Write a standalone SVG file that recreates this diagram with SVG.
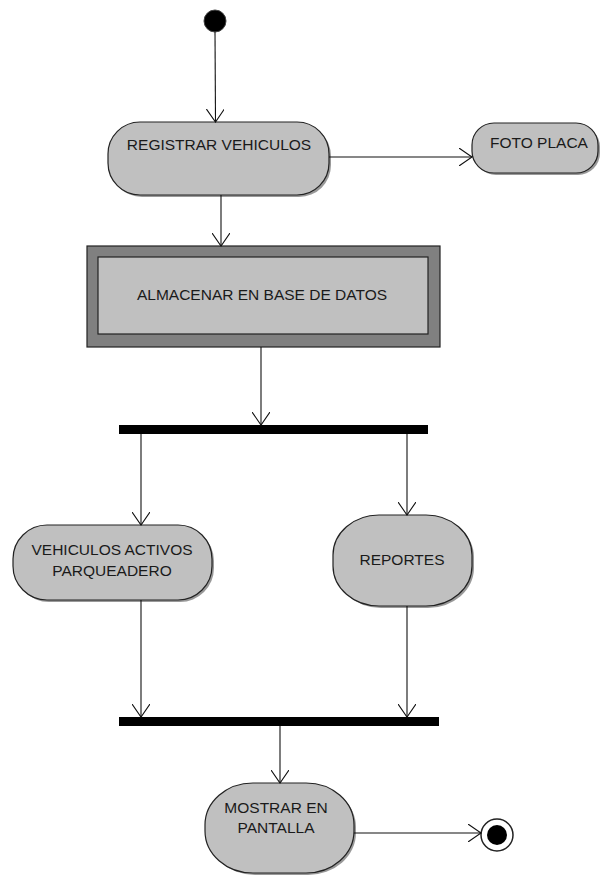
<svg xmlns="http://www.w3.org/2000/svg" width="601" height="877" viewBox="0 0 601 877">
<defs>
<style>
.act{fill:#c0c0c0;stroke:#222;stroke-width:1.2}
.sh{fill:#555;opacity:0.6}
.t{font-family:"Liberation Sans",Arial,sans-serif;font-size:15.5px;fill:#1a1a1a;text-anchor:middle}
.c{stroke:#111;stroke-width:1.1;fill:none}
.bar{fill:#000}
</style>
<marker id="ah" viewBox="0 0 14 18" refX="13" refY="9" markerWidth="14" markerHeight="18" markerUnits="userSpaceOnUse" orient="auto">
<path d="M0,0 L13,9 L0,18" fill="none" stroke="#111" stroke-width="1.1"/>
</marker>
</defs>
<rect width="601" height="877" fill="#fff"/>
<g id="start"><circle cx="215" cy="21" r="11" fill="#000" stroke="#444"/></g>
<g id="registrar">
<rect class="sh" x="110" y="124" width="221" height="73" rx="32" ry="32"/>
<rect class="act" x="108" y="122" width="221" height="73" rx="32" ry="32"/>
<text class="t" x="219" y="150">REGISTRAR VEHICULOS</text>
</g>
<g id="foto">
<rect class="sh" x="474" y="125" width="126" height="50" rx="22" ry="22"/>
<rect class="act" x="472" y="123" width="126" height="50" rx="22" ry="22"/>
<text class="t" x="539" y="148">FOTO PLACA</text>
</g>
<g id="almacenar">
<rect x="87" y="246" width="353" height="101" fill="#808080" stroke="#222" stroke-width="1.2"/>
<rect x="98" y="257" width="330" height="77" fill="#c0c0c0" stroke="#222" stroke-width="1.2"/>
<text class="t" x="262" y="300">ALMACENAR EN BASE DE DATOS</text>
</g>
<g id="fork"><rect class="bar" x="119" y="425" width="309" height="9"/></g>
<g id="vehiculos">
<rect class="sh" x="15" y="527" width="199" height="75" rx="34" ry="34"/>
<rect class="act" x="13" y="525" width="199" height="75" rx="34" ry="34"/>
<text class="t" x="112" y="555">VEHICULOS ACTIVOS</text>
<text class="t" x="112" y="576">PARQUEADERO</text>
</g>
<g id="reportes">
<rect class="sh" x="335" y="517" width="139" height="91" rx="46" ry="40"/>
<rect class="act" x="333" y="515" width="139" height="91" rx="46" ry="40"/>
<text class="t" x="402" y="565">REPORTES</text>
</g>
<g id="join"><rect class="bar" x="119" y="717" width="320" height="9"/></g>
<g id="mostrar">
<rect class="sh" x="207" y="785" width="149" height="90" rx="48" ry="42"/>
<rect class="act" x="205" y="783" width="149" height="90" rx="48" ry="42"/>
<text class="t" x="276" y="813">MOSTRAR EN</text>
<text class="t" x="276" y="833">PANTALLA</text>
</g>
<g id="end">
<circle cx="497" cy="835" r="16" fill="#fff" stroke="#222" stroke-width="1.5"/>
<circle cx="497" cy="835" r="10" fill="#000"/>
</g>
<g id="connectors">
<line class="c" x1="215" y1="32" x2="215.5" y2="122" marker-end="url(#ah)"/>
<line class="c" x1="329" y1="157" x2="472" y2="157" marker-end="url(#ah)"/>
<line class="c" x1="221" y1="195" x2="221" y2="246" marker-end="url(#ah)"/>
<line class="c" x1="261" y1="347" x2="261" y2="425" marker-end="url(#ah)"/>
<line class="c" x1="141" y1="434" x2="141" y2="525" marker-end="url(#ah)"/>
<line class="c" x1="407" y1="434" x2="407" y2="515" marker-end="url(#ah)"/>
<line class="c" x1="141" y1="600" x2="141" y2="717" marker-end="url(#ah)"/>
<line class="c" x1="407" y1="606" x2="407" y2="717" marker-end="url(#ah)"/>
<line class="c" x1="280" y1="726" x2="280" y2="783" marker-end="url(#ah)"/>
<line class="c" x1="354" y1="833" x2="481" y2="833" marker-end="url(#ah)"/>
</g>
</svg>
